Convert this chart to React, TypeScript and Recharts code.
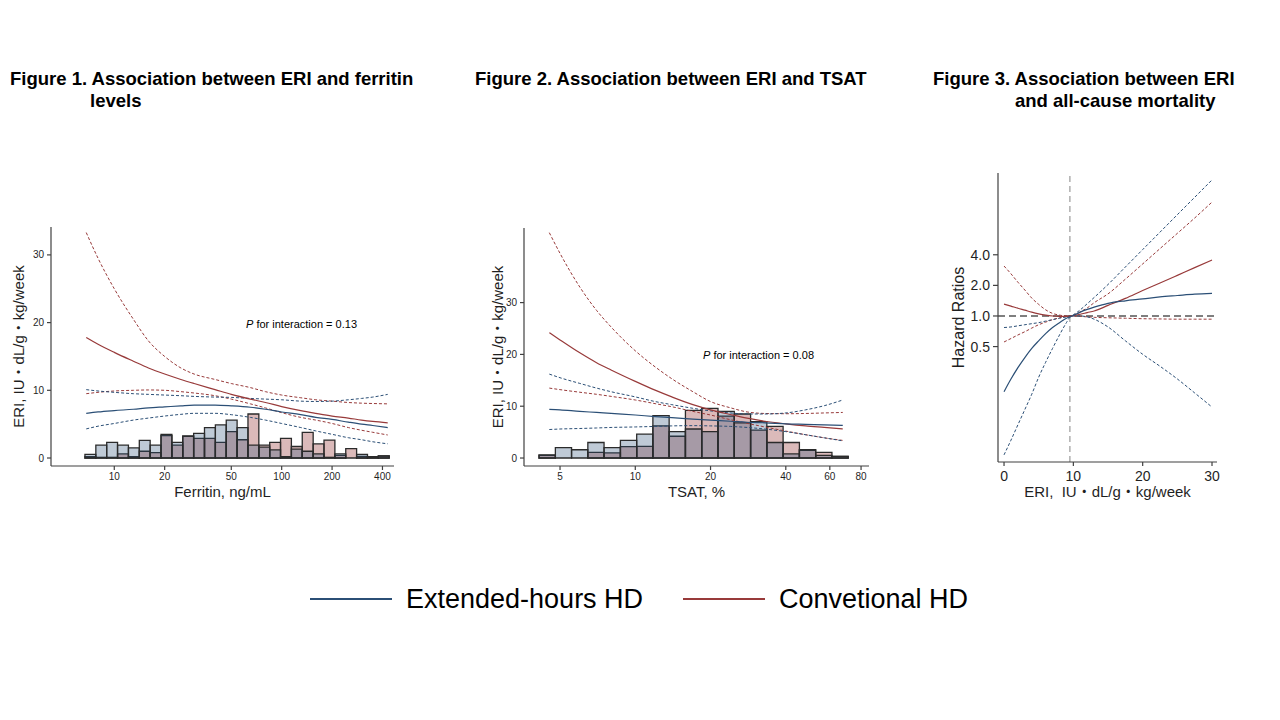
import React from 'react';
import { ComposedChart, Line, XAxis, YAxis, ReferenceArea, ReferenceLine } from 'recharts';

// colours
const BLUE = '#2B4F76';
const RED = '#983A3A';
const EDGE = '#2b2b2b';
const AXIS = '#404040';
const INK = '#1f1f1f';
const FONT = '"Liberation Sans", Arial, "Noto Sans CJK JP", sans-serif';

// ---------- Figure 1: ferritin ----------
const ferritinX = [6.8, 8, 10, 13, 16, 20, 25, 30, 40, 50, 65, 80, 100, 130, 160, 200, 250, 300, 350, 430];
const ferRedFit = [17.8, 16.8, 15.6, 14.3, 13.3, 12.4, 11.6, 11.0, 10.1, 9.4, 8.7, 8.2, 7.6, 7.0, 6.6, 6.2, 5.9, 5.6, 5.4, 5.2];
const ferRedUpper = [33.3, 29.5, 25.0, 20.5, 17.3, 15.0, 13.3, 12.4, 11.6, 11.0, 10.4, 9.8, 9.3, 8.9, 8.6, 8.4, 8.2, 8.1, 8.05, 8.0];
const ferRedLower = [9.5, 9.7, 9.9, 10.0, 10.05, 10.0, 9.8, 9.6, 9.2, 8.7, 8.0, 7.4, 6.7, 6.0, 5.6, 5.1, 4.5, 4.1, 3.8, 3.4];
const ferBlueFit = [6.6, 6.8, 7.0, 7.2, 7.4, 7.55, 7.7, 7.8, 7.8, 7.7, 7.5, 7.2, 6.8, 6.4, 6.0, 5.7, 5.3, 5.0, 4.8, 4.5];
const ferBlueUpper = [10.1, 9.9, 9.7, 9.5, 9.4, 9.3, 9.2, 9.1, 9.0, 8.95, 8.8, 8.7, 8.6, 8.4, 8.35, 8.4, 8.6, 8.8, 9.0, 9.4];
const ferBlueLower = [4.3, 4.7, 5.1, 5.6, 5.9, 6.2, 6.45, 6.6, 6.6, 6.4, 6.0, 5.6, 5.1, 4.5, 4.0, 3.5, 3.0, 2.7, 2.4, 2.1];

const ferBinEdges = [6.68, 7.76, 9.01, 10.46, 12.15, 14.11, 16.38, 19.02, 22.09, 25.65, 29.79, 34.59, 40.17, 46.65,
  54.17, 62.9, 73.04, 84.81, 98.45, 114.3, 132.7, 154.2, 179.0, 207.9, 241.4, 280.3, 325.5, 377.9, 438.8];
const ferHistBlue = [0.55, 1.9, 2.3, 1.9, 1.5, 2.6, 1.9, 3.5, 2.3, 3.25, 3.65, 4.5, 4.9, 5.6, 4.5, 1.9, 1.6, 1.2, 0.2, 1.3,
  1.0, 0.6, 0.1, 0.6, 0.0, 0.55, 0.2, 0.3];
const ferHistRed = [0.2, 0.1, 0.1, 0.6, 0.2, 1.0, 0.8, 3.3, 1.9, 3.2, 2.9, 2.9, 2.3, 3.9, 2.7, 6.5, 1.9, 2.3, 2.9, 1.7,
  3.8, 2.1, 2.65, 0.4, 1.4, 0.25, 0.2, 0.3];
const ferTicks = [10, 20, 50, 100, 200, 400];
const ferYTicks = [0, 10, 20, 30];

// ---------- Figure 2: TSAT ----------
const tsatX = [4.53, 5, 6, 7, 8, 10, 12, 14, 17, 20, 24, 28, 33, 40, 48, 57, 67.6];
const tsatRedFit = [24.2, 22.8, 20.3, 18.4, 17.0, 14.8, 13.1, 11.8, 10.3, 9.3, 8.4, 7.7, 7.1, 6.6, 6.2, 5.9, 5.6];
const tsatRedUpper = [43.5, 39.5, 33.0, 28.5, 25.3, 20.7, 17.6, 15.3, 12.8, 10.9, 9.7, 8.9, 8.6, 8.55, 8.6, 8.7, 8.8];
const tsatRedLower = [13.5, 13.2, 12.7, 12.3, 11.9, 11.2, 10.5, 9.9, 9.0, 8.3, 7.4, 6.7, 6.0, 5.2, 4.5, 3.9, 3.4];
const tsatBlueFit = [9.4, 9.3, 9.0, 8.8, 8.6, 8.3, 8.0, 7.8, 7.5, 7.3, 7.1, 6.9, 6.8, 6.6, 6.5, 6.4, 6.3];
const tsatBlueUpper = [16.2, 15.5, 14.4, 13.5, 12.8, 11.8, 10.9, 10.3, 9.6, 9.1, 8.7, 8.5, 8.5, 8.7, 9.3, 10.1, 11.2];
const tsatBlueLower = [5.5, 5.6, 5.7, 5.8, 5.9, 6.0, 6.1, 6.2, 6.25, 6.2, 6.1, 5.9, 5.6, 5.1, 4.5, 3.9, 3.3];

const tsatBinEdges = [4.12, 4.79, 5.56, 6.46, 7.5, 8.72, 10.13, 11.76, 13.66, 15.87, 18.44, 21.42, 24.89, 28.92,
  33.59, 39.02, 45.34, 52.67, 61.18, 71.08];
const tsatHistBlue = [0.6, 2.0, 1.6, 3.0, 2.0, 3.4, 4.6, 8.2, 5.1, 5.6, 5.1, 9.0, 6.8, 7.0, 3.0, 0.8, 1.6, 0.5, 0.3];
const tsatHistRed = [0.5, 0.0, 0.0, 1.1, 1.0, 2.2, 2.25, 6.2, 4.2, 9.2, 9.6, 8.1, 8.5, 5.4, 6.1, 3.0, 1.5, 1.1, 0.3];
const tsatTicks = [5, 10, 20, 40, 60, 80];
const tsatYTicks = [0, 10, 20, 30];

// ---------- Figure 3: mortality ----------
const eriX = [0, 1, 2, 3, 4, 5, 6, 7, 8, 9, 9.5, 10, 11, 12, 13, 15, 17.5, 20, 22.5, 25, 27.5, 30];
const hrBlueFit = [0.18, 0.24, 0.31, 0.39, 0.48, 0.57, 0.67, 0.77, 0.86, 0.95, 0.98, 1.01, 1.09, 1.16, 1.22, 1.33, 1.41, 1.47, 1.54, 1.59, 1.64, 1.67];
const hrBlueUpper = [0.77, 0.78, 0.8, 0.82, 0.84, 0.86, 0.89, 0.92, 0.95, 0.98, 1.0, 1.03, 1.15, 1.32, 1.52, 2.04, 3.03, 4.5, 6.68, 9.92, 14.7, 21.8];
const hrBlueLower = [0.043, 0.06, 0.085, 0.12, 0.17, 0.25, 0.35, 0.48, 0.65, 0.86, 0.97, 1.0, 1.0, 0.98, 0.93, 0.78, 0.57, 0.42, 0.32, 0.24, 0.175, 0.127];
const hrRedFit = [1.31, 1.25, 1.19, 1.14, 1.09, 1.05, 1.02, 1.0, 0.99, 0.99, 1.0, 1.01, 1.04, 1.08, 1.12, 1.27, 1.49, 1.78, 2.11, 2.51, 2.99, 3.55];
const hrRedUpper = [3.1, 2.6, 2.15, 1.8, 1.5, 1.3, 1.15, 1.06, 1.02, 1.0, 1.0, 1.02, 1.1, 1.2, 1.35, 1.65, 2.3, 3.25, 4.6, 6.5, 9.2, 13.2];
const hrRedLower = [0.555, 0.6, 0.65, 0.7, 0.76, 0.82, 0.87, 0.92, 0.96, 0.99, 1.0, 1.0, 0.99, 0.98, 0.97, 0.96, 0.95, 0.94, 0.935, 0.93, 0.93, 0.93];
const eriTicks = [0, 10, 20, 30];
const hrTicks = [0.5, 1, 2, 4];
const eriReference = 9.5;

const legendItems = [
  { label: 'Extended-hours HD', color: BLUE, left: 310 },
  { label: 'Convetional HD', color: RED, left: 683 },
];

type Row = Record<string, number>;
const toRows = (xs: number[], cols: Record<string, number[]>): Row[] =>
  xs.map((x, i) => {
    const r: Row = { x };
    Object.keys(cols).forEach((k) => { r[k] = cols[k][i]; });
    return r;
  });

const ferData = toRows(ferritinX, {
  redFit: ferRedFit, redUpper: ferRedUpper, redLower: ferRedLower,
  blueFit: ferBlueFit, blueUpper: ferBlueUpper, blueLower: ferBlueLower,
});
const tsatData = toRows(tsatX, {
  redFit: tsatRedFit, redUpper: tsatRedUpper, redLower: tsatRedLower,
  blueFit: tsatBlueFit, blueUpper: tsatBlueUpper, blueLower: tsatBlueLower,
});
const hrData = toRows(eriX, {
  redFit: hrRedFit, redUpper: hrRedUpper, redLower: hrRedLower,
  blueFit: hrBlueFit, blueUpper: hrBlueUpper, blueLower: hrBlueLower,
});

const curves = () => [
  <Line key="ru" dataKey="redUpper" type="monotone" stroke={RED} strokeWidth={1} strokeDasharray="3 2" dot={false} isAnimationActive={false} />,
  <Line key="rl" dataKey="redLower" type="monotone" stroke={RED} strokeWidth={1} strokeDasharray="3 2" dot={false} isAnimationActive={false} />,
  <Line key="bu" dataKey="blueUpper" type="monotone" stroke={BLUE} strokeWidth={1} strokeDasharray="3 2" dot={false} isAnimationActive={false} />,
  <Line key="bl" dataKey="blueLower" type="monotone" stroke={BLUE} strokeWidth={1} strokeDasharray="3 2" dot={false} isAnimationActive={false} />,
  <Line key="rf" dataKey="redFit" type="monotone" stroke={RED} strokeWidth={1.2} dot={false} isAnimationActive={false} />,
  <Line key="bf" dataKey="blueFit" type="monotone" stroke={BLUE} strokeWidth={1.2} dot={false} isAnimationActive={false} />,
];

// red bins drawn first, blue on top, so the overlap turns grey-violet
const histogram = (edges: number[], red: number[], blue: number[]) => [
  ...red.map((v, i) => v > 0 ? (
    <ReferenceArea key={'hr' + i} x1={edges[i]} x2={edges[i + 1]} y1={0} y2={v}
      fill={RED} fillOpacity={0.35} stroke={EDGE} strokeWidth={1.3} />
  ) : null),
  ...blue.map((v, i) => v > 0 ? (
    <ReferenceArea key={'hb' + i} x1={edges[i]} x2={edges[i + 1]} y1={0} y2={v}
      fill={BLUE} fillOpacity={0.3} stroke={EDGE} strokeWidth={1.3} />
  ) : null),
];

const axisLine = { stroke: AXIS, strokeWidth: 1.2 };
const smallTick = { fontSize: 10, fill: INK };
// full-width katakana middle dot, as in the original Japanese figure
const eriTitle = 'ERI, IU\u30FBdL/g\u30FBkg/week';

const abs = (left: number, top: number): React.CSSProperties => ({ position: 'absolute', left, top });

const Title: React.FC<{ left: number; top: number; text: string }> = ({ left, top, text }) => (
  <div style={{ ...abs(left, top), fontSize: 18.5, lineHeight: '18.5px', fontWeight: 'bold', color: '#000', whiteSpace: 'nowrap' }}>{text}</div>
);

const PNote: React.FC<{ left: number; top: number; value: string }> = ({ left, top, value }) => (
  <div style={{ ...abs(left, top), fontSize: 11, lineHeight: '11px', color: '#000', whiteSpace: 'nowrap' }}>
    <i>P</i> for interaction = {value}
  </div>
);

export default function App() {
  return (
    <div style={{ position: 'absolute', left: 0, top: 0, width: 1280, height: 720, background: '#fff', fontFamily: FONT, overflow: 'hidden' }}>
      <Title left={10} top={70} text="Figure 1. Association between ERI and ferritin" />
      <Title left={90} top={92} text="levels" />
      <Title left={475} top={70} text="Figure 2. Association between ERI and TSAT" />
      <Title left={933} top={70} text="Figure 3. Association between ERI" />
      <Title left={1015} top={92} text="and all-cause mortality" />

      {/* Figure 1 */}
      <div style={abs(0, 200)}>
        <ComposedChart width={410} height={310} data={ferData} margin={{ top: 27, right: 16, bottom: 4, left: 0 }}>
          <XAxis dataKey="x" type="number" scale="log" domain={[4.188, 468.8]} allowDataOverflow ticks={ferTicks} interval={0}
            height={40} axisLine={axisLine} tickLine={axisLine} tickSize={4} tickMargin={2.5} tick={smallTick}
            label={{ value: 'Ferritin, ng/mL', position: 'insideBottom', offset: 9.5, fontSize: 15, fill: INK }} />
          <YAxis type="number" domain={[-1.18, 34.12]} allowDataOverflow ticks={ferYTicks} interval={0}
            width={51} axisLine={axisLine} tickLine={axisLine} tickSize={4} tickMargin={3} tick={smallTick}
            label={{ value: eriTitle, angle: -90, position: 'insideLeft', offset: 19, fontSize: 15, fill: INK, style: { textAnchor: 'middle' } }} />
          {histogram(ferBinEdges, ferHistRed, ferHistBlue)}
          {curves()}
        </ComposedChart>
      </div>
      <PNote left={246} top={318.5} value="0.13" />

      {/* Figure 2 */}
      <div style={abs(470, 200)}>
        <ComposedChart width={420} height={310} data={tsatData} margin={{ top: 28, right: 21, bottom: 4, left: 0 }}>
          <XAxis dataKey="x" type="number" scale="log" domain={[3.588, 86.07]} allowDataOverflow ticks={tsatTicks} interval={0}
            height={40} axisLine={axisLine} tickLine={axisLine} tickSize={4} tickMargin={2.5} tick={smallTick}
            label={{ value: 'TSAT, %', position: 'insideBottom', offset: 9.5, fontSize: 15, fill: INK }} />
          <YAxis type="number" domain={[-1.54, 44.4]} allowDataOverflow ticks={tsatYTicks} interval={0}
            width={54} axisLine={axisLine} tickLine={axisLine} tickSize={4} tickMargin={3} tick={smallTick}
            label={{ value: eriTitle, angle: -90, position: 'insideLeft', offset: 27.5, fontSize: 15, fill: INK, style: { textAnchor: 'middle' } }} />
          {histogram(tsatBinEdges, tsatHistRed, tsatHistBlue)}
          {curves()}
        </ComposedChart>
      </div>
      <PNote left={703} top={349.5} value="0.08" />

      {/* Figure 3 */}
      <div style={abs(930, 150)}>
        <ComposedChart width={310} height={360} data={hrData} margin={{ top: 23, right: 23, bottom: 4, left: 0 }}>
          <XAxis dataKey="x" type="number" domain={[-0.87, 30.72]} allowDataOverflow ticks={eriTicks} interval={0}
            height={44} axisLine={axisLine} tickLine={axisLine} tickSize={4} tickMargin={5} tick={{ fontSize: 14, fill: INK }}
            label={{ value: 'ERI,\u00a0 IU\u30FBdL/g\u30FBkg/week', position: 'insideBottom', offset: 9.5, fontSize: 15, fill: INK }} />
          <YAxis type="number" scale="log" domain={[0.0366, 25.5]} allowDataOverflow ticks={hrTicks} interval={0}
            width={68} axisLine={axisLine} tickLine={axisLine} tickSize={5} tickMargin={3} tick={{ fontSize: 14, fill: INK }}
            tickFormatter={(v: number) => v.toFixed(1)}
            label={{ value: 'Hazard Ratios', angle: -90, position: 'insideLeft', offset: 28, fontSize: 16, fill: INK, style: { textAnchor: 'middle' } }} />
          <ReferenceLine x={eriReference} stroke="#9a9a9a" strokeWidth={1.2} strokeDasharray="6 4" />
          <ReferenceLine y={1} stroke="#000" strokeWidth={1.2} strokeDasharray="7 4" />
          {curves()}
        </ComposedChart>
      </div>

      {/* shared legend */}
      {legendItems.map((item) => (
        <div key={item.label} style={{ ...abs(item.left, 585.5), display: 'flex', alignItems: 'center', height: 27 }}>
          <div style={{ width: 82, height: 2.5, background: item.color }} />
          <span style={{ marginLeft: 14, fontSize: 27, lineHeight: '27px', color: '#000', whiteSpace: 'nowrap' }}>{item.label}</span>
        </div>
      ))}
    </div>
  );
}
